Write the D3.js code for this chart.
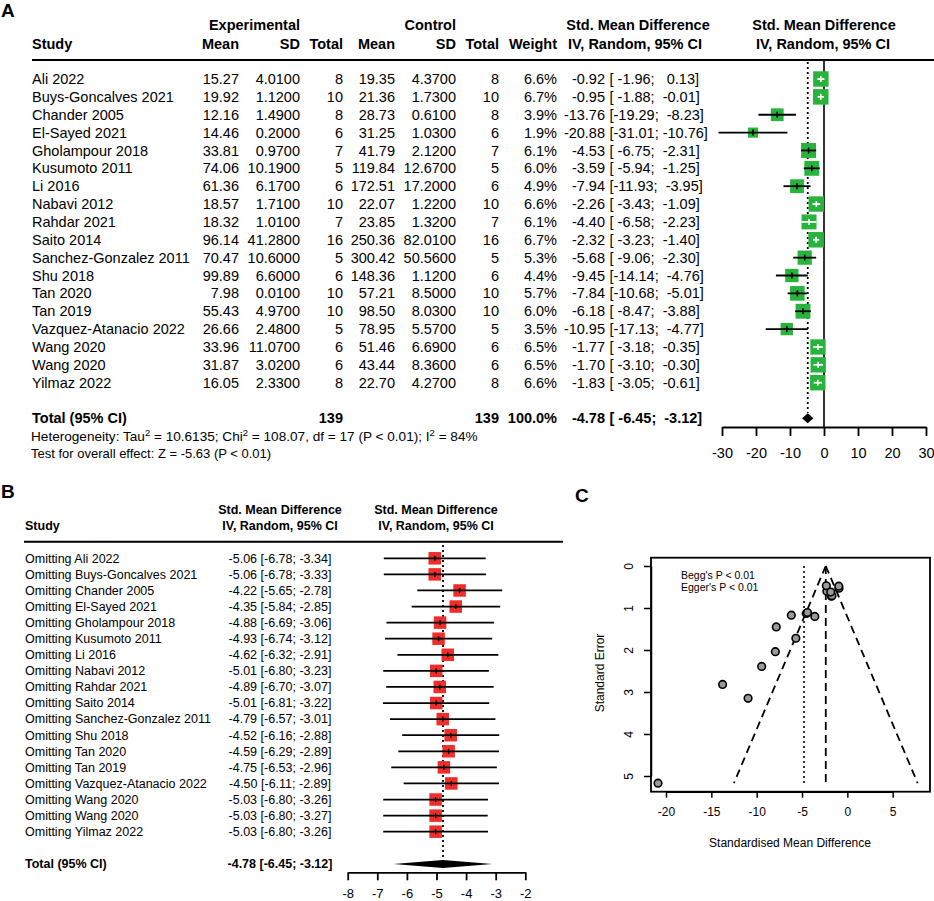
<!DOCTYPE html>
<html>
<head>
<meta charset="utf-8">
<script src="https://cdn.jsdelivr.net/npm/d3@7"></script>
<style>
body { margin: 0; background: #fff; }
svg text { font-family: "Liberation Sans", Arial, Helvetica, sans-serif; white-space: pre; fill: #000; }
</style>
</head>
<body>
<div id="chart"></div>
<script>
var studies = ["Ali 2022", "Buys-Goncalves 2021", "Chander 2005", "El-Sayed 2021", "Gholampour 2018",
    "Kusumoto 2011", "Li 2016", "Nabavi 2012", "Rahdar 2021", "Saito 2014", "Sanchez-Gonzalez 2011",
    "Shu 2018", "Tan 2020", "Tan 2019", "Vazquez-Atanacio 2022", "Wang 2020", "Wang 2020", "Yilmaz 2022"];
var expMean = [15.27, 19.92, 12.16, 14.46, 33.81, 74.06, 61.36, 18.57, 18.32, 96.14, 70.47, 99.89, 7.98, 55.43, 26.66, 33.96, 31.87, 16.05];
var expSD = [4.01, 1.12, 1.49, 0.20, 0.97, 10.19, 6.17, 1.71, 1.01, 41.28, 10.60, 6.60, 0.01, 4.97, 2.48, 11.07, 3.02, 2.33];
var expN = [8, 10, 8, 6, 7, 5, 6, 10, 7, 16, 5, 6, 10, 10, 5, 6, 6, 8];
var ctrlMean = [19.35, 21.36, 28.73, 31.25, 41.79, 119.84, 172.51, 22.07, 23.85, 250.36, 300.42, 148.36, 57.21, 98.50, 78.95, 51.46, 43.44, 22.70];
var ctrlSD = [4.37, 1.73, 0.61, 1.03, 2.12, 12.67, 17.20, 1.22, 1.32, 82.01, 50.56, 1.12, 8.50, 8.03, 5.57, 6.69, 8.36, 4.27];
var ctrlN = [8, 10, 8, 6, 7, 5, 6, 10, 7, 16, 5, 6, 10, 10, 5, 6, 6, 8];
var weight = [6.6, 6.7, 3.9, 1.9, 6.1, 6.0, 4.9, 6.6, 6.1, 6.7, 5.3, 4.4, 5.7, 6.0, 3.5, 6.5, 6.5, 6.6];
var smd = [-0.92, -0.95, -13.76, -20.88, -4.53, -3.59, -7.94, -2.26, -4.40, -2.32, -5.68, -9.45, -7.84, -6.18, -10.95, -1.77, -1.70, -1.83];
var smdLower = [-1.96, -1.88, -19.29, -31.01, -6.75, -5.94, -11.93, -3.43, -6.58, -3.23, -9.06, -14.14, -10.68, -8.47, -17.13, -3.18, -3.10, -3.05];
var smdUpper = [0.13, -0.01, -8.23, -10.76, -2.31, -1.25, -3.95, -1.09, -2.23, -1.40, -2.30, -4.76, -5.01, -3.88, -4.77, -0.35, -0.30, -0.61];
var totalN = 139;
var pooled = -4.78, pooledLower = -6.45, pooledUpper = -3.12;
var axisTicksA = [-30, -20, -10, 0, 10, 20, 30];

// leave-one-out
var omitEst = [-5.06, -5.06, -4.22, -4.35, -4.88, -4.93, -4.62, -5.01, -4.89, -5.01, -4.79, -4.52, -4.59, -4.75, -4.50, -5.03, -5.03, -5.03];
var omitLower = [-6.78, -6.78, -5.65, -5.84, -6.69, -6.74, -6.32, -6.80, -6.70, -6.81, -6.57, -6.16, -6.29, -6.53, -6.11, -6.80, -6.80, -6.80];
var omitUpper = [-3.34, -3.33, -2.78, -2.85, -3.06, -3.12, -2.91, -3.23, -3.07, -3.22, -3.01, -2.88, -2.89, -2.96, -2.89, -3.26, -3.27, -3.26];
var axisTicksB = [-8, -7, -6, -5, -4, -3, -2];

// funnel
var stdErr = [0.53, 0.48, 2.82, 5.17, 1.13, 1.20, 2.04, 0.60, 1.11, 0.47, 1.72, 2.39, 1.45, 1.17, 3.15, 0.72, 0.71, 0.62];
var commonEst = -2.38;
var axisTicksCx = [-20, -15, -10, -5, 0, 5];
var axisTicksCy = [0, 1, 2, 3, 4, 5];

(function() {
    var green = "#28b43c",
        red = "#ef2d2b",
        n = studies.length;

    function f2(v) { return v.toFixed(2); }
    function pad(s, len) { while (s.length < len) s = " " + s; return s; }
    function bracket(lo, hi) { return "[" + pad(f2(lo), 6) + "; " + pad(f2(hi), 6) + "]"; }

    var svg = d3.select("#chart")
        .append("svg")
        .attr("width", 934)
        .attr("height", 901);

    // ---------- panel A ----------
    var gA = svg.append("g").attr("font-size", 14.5);
    var xA = d3.scaleLinear().domain([-30, 30]).range([722, 926]),
        yA = d3.scaleLinear().domain([0, n - 1]).range([79, 382.7]),
        boxA = d3.scaleSqrt().domain([0, 6.7]).range([4, 15.5]);

    svg.append("text").attr("x", 1).attr("y", 17).attr("font-size", 19).attr("font-weight", "bold").text("A");

    var headA = [
        {x: 300, y: 25, t: "Experimental", a: "end"},
        {x: 456, y: 25, t: "Control", a: "end"},
        {x: 638, y: 25, t: "Std. Mean Difference", a: "middle"},
        {x: 824, y: 25, t: "Std. Mean Difference", a: "middle"},
        {x: 32, y: 44, t: "Study", a: "start"},
        {x: 239, y: 44, t: "Mean", a: "end"},
        {x: 300, y: 44, t: "SD", a: "end"},
        {x: 343, y: 44, t: "Total", a: "end"},
        {x: 395, y: 44, t: "Mean", a: "end"},
        {x: 456, y: 44, t: "SD", a: "end"},
        {x: 499, y: 44, t: "Total", a: "end"},
        {x: 557, y: 44, t: "Weight", a: "end"},
        {x: 635, y: 44, t: "IV, Random, 95% CI", a: "middle"},
        {x: 823, y: 44, t: "IV, Random, 95% CI", a: "middle"}
    ];
    gA.selectAll(".headA").data(headA).join("text")
        .attr("class", "headA")
        .attr("x", d => d.x).attr("y", d => d.y).attr("dy", "0.35em")
        .attr("text-anchor", d => d.a).attr("font-weight", "bold")
        .text(d => d.t);

    gA.append("line").attr("x1", 32).attr("x2", 934).attr("y1", 60).attr("y2", 60)
        .attr("stroke", "#000").attr("stroke-width", 2);

    var colsA = [
        {x: 32, a: "start", vals: studies},
        {x: 239, a: "end", vals: expMean.map(f2)},
        {x: 300, a: "end", vals: expSD.map(d => d.toFixed(4))},
        {x: 343, a: "end", vals: expN},
        {x: 395, a: "end", vals: ctrlMean.map(f2)},
        {x: 456, a: "end", vals: ctrlSD.map(d => d.toFixed(4))},
        {x: 499, a: "end", vals: ctrlN},
        {x: 557, a: "end", vals: weight.map(d => d.toFixed(1) + "%")},
        {x: 605, a: "end", vals: smd.map(f2)},
        {x: 609.5, a: "start", vals: smd.map((d, i) => bracket(smdLower[i], smdUpper[i]))}
    ];
    colsA.forEach(function(c) {
        gA.append("g").selectAll("text").data(c.vals).join("text")
            .attr("x", c.x).attr("y", (d, i) => yA(i)).attr("dy", "0.35em")
            .attr("text-anchor", c.a)
            .text(d => d);
    });

    var yTotA = 418.3;
    var totA = [
        {x: 32, a: "start", t: "Total (95% CI)"},
        {x: 343, a: "end", t: String(totalN)},
        {x: 499, a: "end", t: String(totalN)},
        {x: 557, a: "end", t: "100.0%"},
        {x: 605, a: "end", t: f2(pooled)},
        {x: 609.5, a: "start", t: bracket(pooledLower, pooledUpper)}
    ];
    gA.selectAll(".totA").data(totA).join("text")
        .attr("class", "totA")
        .attr("x", d => d.x).attr("y", yTotA).attr("dy", "0.35em")
        .attr("text-anchor", d => d.a).attr("font-weight", "bold")
        .text(d => d.t);

    var het = gA.append("text").attr("x", 31).attr("y", 436).attr("dy", "0.35em").attr("font-size", 13.6);
    het.append("tspan").text("Heterogeneity: Tau");
    het.append("tspan").attr("dy", -5).attr("font-size", 9.5).text("2");
    het.append("tspan").attr("dy", 5).text(" = 10.6135; Chi");
    het.append("tspan").attr("dy", -5).attr("font-size", 9.5).text("2");
    het.append("tspan").attr("dy", 5).text(" = 108.07, df = 17 (P < 0.01); I");
    het.append("tspan").attr("dy", -5).attr("font-size", 9.5).text("2");
    het.append("tspan").attr("dy", 5).text(" = 84%");

    gA.append("text").attr("x", 31).attr("y", 453.5).attr("dy", "0.35em").attr("font-size", 13)
        .text("Test for overall effect: Z = -5.63 (P < 0.01)");

    // reference lines
    gA.append("line").attr("x1", xA(0)).attr("x2", xA(0)).attr("y1", 60).attr("y2", 427)
        .attr("stroke", "#000").attr("stroke-width", 1.6);
    gA.append("line").attr("x1", xA(pooled)).attr("x2", xA(pooled)).attr("y1", 62).attr("y2", 413)
        .attr("stroke", "#000").attr("stroke-width", 1.8).attr("stroke-dasharray", "2,3");

    // boxes and CIs
    var rowsA = gA.append("g").selectAll("g").data(d3.range(n)).join("g");
    rowsA.append("rect")
        .attr("x", i => xA(smd[i]) - boxA(weight[i]) / 2)
        .attr("y", i => yA(i) - boxA(weight[i]) / 2)
        .attr("width", i => boxA(weight[i]))
        .attr("height", i => boxA(weight[i]))
        .attr("fill", green);
    function insideA(i) {
        var h = boxA(weight[i]) / 2;
        return xA(smdLower[i]) >= xA(smd[i]) - h && xA(smdUpper[i]) <= xA(smd[i]) + h;
    }
    rowsA.append("line")
        .attr("x1", i => xA(smdLower[i])).attr("x2", i => xA(smdUpper[i]))
        .attr("y1", i => yA(i)).attr("y2", i => yA(i))
        .attr("stroke", i => insideA(i) ? "#fff" : "#000").attr("stroke-width", 1.8);
    rowsA.append("line")
        .attr("x1", i => xA(smd[i])).attr("x2", i => xA(smd[i]))
        .attr("y1", i => yA(i) - 3).attr("y2", i => yA(i) + 3)
        .attr("stroke", i => insideA(i) ? "#fff" : "#000").attr("stroke-width", 1.6);

    gA.append("polygon")
        .attr("points", [[xA(pooledLower), yTotA], [xA(pooled), yTotA - 5], [xA(pooledUpper), yTotA], [xA(pooled), yTotA + 5]].join(" "))
        .attr("fill", "#000");

    var axA = gA.append("g").attr("transform", "translate(0,427)")
        .call(d3.axisBottom(xA).tickValues(axisTicksA).tickSize(9).tickSizeOuter(0).tickPadding(12).tickFormat(d => d));
    axA.selectAll("path, line").attr("stroke-width", 1.8);
    axA.selectAll("text").attr("font-size", 14.5).attr("font-family", null);

    // ---------- panel B ----------
    var gB = svg.append("g").attr("font-size", 12.5);
    var xB = d3.scaleLinear().domain([-8, -2]).range([347.7, 525.3]),
        yB = d3.scaleLinear().domain([0, n - 1]).range([558.3, 831.7]),
        boxB = 12.5;

    svg.append("text").attr("x", 1).attr("y", 498).attr("font-size", 19).attr("font-weight", "bold").text("B");

    var headB = [
        {x: 280, y: 510, t: "Std. Mean Difference", a: "middle"},
        {x: 436, y: 510, t: "Std. Mean Difference", a: "middle"},
        {x: 25, y: 526, t: "Study", a: "start"},
        {x: 280, y: 526, t: "IV, Random, 95% CI", a: "middle"},
        {x: 436, y: 526, t: "IV, Random, 95% CI", a: "middle"}
    ];
    gB.selectAll(".headB").data(headB).join("text")
        .attr("class", "headB")
        .attr("x", d => d.x).attr("y", d => d.y).attr("dy", "0.35em")
        .attr("text-anchor", d => d.a).attr("font-weight", "bold")
        .text(d => d.t);
    gB.append("line").attr("x1", 24).attr("x2", 563).attr("y1", 541.7).attr("y2", 541.7)
        .attr("stroke", "#000").attr("stroke-width", 2);

    gB.append("g").selectAll("text").data(studies).join("text")
        .attr("x", 25).attr("y", (d, i) => yB(i)).attr("dy", "0.35em")
        .text(d => "Omitting " + d);
    gB.append("g").selectAll("text").data(omitEst).join("text")
        .attr("x", 280).attr("y", (d, i) => yB(i)).attr("dy", "0.35em").attr("text-anchor", "middle")
        .text((d, i) => f2(d) + " [" + f2(omitLower[i]) + "; " + f2(omitUpper[i]) + "]");

    var yTotB = 864;
    gB.append("text").attr("x", 25).attr("y", yTotB).attr("dy", "0.35em").attr("font-weight", "bold")
        .text("Total (95% CI)");
    gB.append("text").attr("x", 280).attr("y", yTotB).attr("dy", "0.35em").attr("font-weight", "bold")
        .attr("text-anchor", "middle")
        .text(f2(pooled) + " [" + f2(pooledLower) + "; " + f2(pooledUpper) + "]");

    gB.append("line").attr("x1", xB(pooled)).attr("x2", xB(pooled)).attr("y1", 545).attr("y2", 858)
        .attr("stroke", "#000").attr("stroke-width", 1.8).attr("stroke-dasharray", "2,3");

    var rowsB = gB.append("g").selectAll("g").data(d3.range(n)).join("g");
    rowsB.append("rect")
        .attr("x", i => xB(omitEst[i]) - boxB / 2)
        .attr("y", i => yB(i) - boxB / 2)
        .attr("width", boxB).attr("height", boxB)
        .attr("fill", red);
    rowsB.append("line")
        .attr("x1", i => xB(omitLower[i])).attr("x2", i => xB(omitUpper[i]))
        .attr("y1", i => yB(i)).attr("y2", i => yB(i))
        .attr("stroke", "#000").attr("stroke-width", 1.8);
    rowsB.append("line")
        .attr("x1", i => xB(omitEst[i])).attr("x2", i => xB(omitEst[i]))
        .attr("y1", i => yB(i) - 2.5).attr("y2", i => yB(i) + 2.5)
        .attr("stroke", "#000").attr("stroke-width", 1.4);

    gB.append("polygon")
        .attr("points", [[xB(pooledLower), yTotB], [xB(pooled), yTotB - 4], [xB(pooledUpper), yTotB], [xB(pooled), yTotB + 4]].join(" "))
        .attr("fill", "#000");

    var axB = gB.append("g").attr("transform", "translate(0,872.3)")
        .call(d3.axisBottom(xB).tickValues(axisTicksB).tickSize(8).tickSizeOuter(0).tickPadding(8.5).tickFormat(d => d));
    axB.selectAll("path, line").attr("stroke-width", 1.8);
    axB.selectAll("text").attr("font-size", 13).attr("font-family", null);

    // ---------- panel C ----------
    var gC = svg.append("g").attr("font-size", 12);
    var xC = d3.scaleLinear().domain([-20, 5]).range([666, 892.7]),
        yC = d3.scaleLinear().domain([0, 5]).range([566, 776]),
        seMax = d3.max(stdErr);

    svg.append("text").attr("x", 575).attr("y", 502).attr("font-size", 19).attr("font-weight", "bold").text("C");

    gC.append("rect").attr("x", 651).attr("y", 557.7).attr("width", 279).attr("height", 234)
        .attr("fill", "none").attr("stroke", "#000").attr("stroke-width", 1.8);

    var axCx = gC.append("g").attr("transform", "translate(0,791.7)")
        .call(d3.axisBottom(xC).tickValues(axisTicksCx).tickSize(6).tickSizeOuter(0).tickPadding(10).tickFormat(d => d));
    axCx.selectAll("path, line").attr("stroke-width", 1.5);
    axCx.selectAll("text").attr("font-size", 12).attr("font-family", null);

    var axCy = gC.append("g").attr("transform", "translate(651,0)")
        .call(d3.axisLeft(yC).tickValues(axisTicksCy).tickSize(7).tickSizeOuter(0).tickFormat(d => d));
    axCy.selectAll("path, line").attr("stroke-width", 1.5);
    axCy.selectAll("text").attr("font-size", 12).attr("font-family", null)
        .attr("x", 0).attr("dy", "0.35em").attr("text-anchor", "middle")
        .attr("transform", "translate(-22,0) rotate(-90)");

    gC.append("text").attr("transform", "translate(600,673) rotate(-90)").attr("text-anchor", "middle")
        .attr("dy", "0.35em").text("Standard Error");
    gC.append("text").attr("x", 790).attr("y", 843).attr("text-anchor", "middle").attr("dy", "0.35em")
        .text("Standardised Mean Difference");
    gC.append("text").attr("x", 681).attr("y", 575).attr("dy", "0.35em").attr("font-size", 10.5).text("Begg's P < 0.01");
    gC.append("text").attr("x", 681).attr("y", 587.5).attr("dy", "0.35em").attr("font-size", 10.5).text("Egger's P < 0.01");

    var funnel = [
        [[commonEst, 0], [commonEst - 1.96 * seMax, seMax]],
        [[commonEst, 0], [commonEst + 1.96 * seMax, seMax]],
        [[commonEst, 0], [commonEst, seMax]]
    ];
    gC.append("g").selectAll("line").data(funnel).join("line")
        .attr("x1", d => xC(d[0][0])).attr("y1", d => yC(d[0][1]))
        .attr("x2", d => xC(d[1][0])).attr("y2", d => yC(d[1][1]))
        .attr("stroke", "#000").attr("stroke-width", 1.8).attr("stroke-dasharray", "8,5");
    gC.append("line").attr("x1", xC(pooled)).attr("x2", xC(pooled)).attr("y1", yC(0)).attr("y2", yC(seMax))
        .attr("stroke", "#000").attr("stroke-width", 1.6).attr("stroke-dasharray", "2,3");

    gC.append("g").selectAll("circle").data(smd).join("circle")
        .attr("cx", d => xC(d)).attr("cy", (d, i) => yC(stdErr[i]))
        .attr("r", 3.8)
        .attr("fill", "#9a9a9a").attr("stroke", "#000").attr("stroke-width", 1.6);
})();
</script>
</body>
</html>
